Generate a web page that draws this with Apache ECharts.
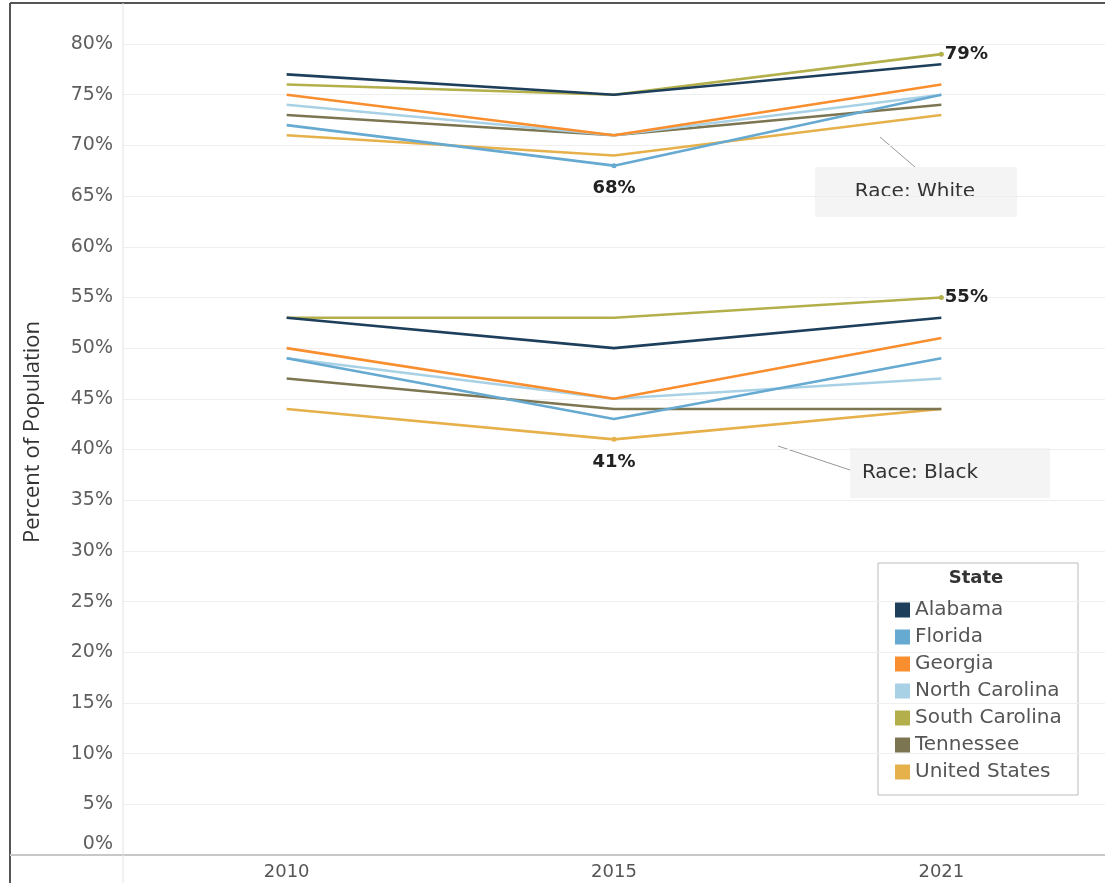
<!DOCTYPE html>
<html>
<head>
<meta charset="utf-8">
<script src="https://cdn.jsdelivr.net/npm/echarts@6/dist/echarts.min.js"></script>
<style>
html,body{margin:0;padding:0;background:#fff;}
#chart{width:1105px;height:883px;}
</style>
</head>
<body>
<div id="chart"></div>
<script>
// ---- data ----
const years = ['2010', '2015', '2021'];
const states = ['Alabama', 'Florida', 'Georgia', 'North Carolina', 'South Carolina', 'Tennessee', 'United States'];
const stateColors = ['#1d3f5c', '#66a9d1', '#f98e2f', '#a9d1e5', '#b3af4a', '#7b7552', '#e6b04b'];

const whiteAlabama = [77, 75, 78];
const whiteFlorida = [72, 68, 75];
const whiteGeorgia = [75, 71, 76];
const whiteNorthCarolina = [74, 71, 75];
const whiteSouthCarolina = [76, 75, 79];
const whiteTennessee = [73, 71, 74];
const whiteUnitedStates = [71, 69, 73];

const blackAlabama = [53, 50, 53];
const blackFlorida = [49, 43, 49];
const blackGeorgia = [50, 45, 51];
const blackNorthCarolina = [49, 45, 47];
const blackSouthCarolina = [53, 53, 55];
const blackTennessee = [47, 44, 44];
const blackUnitedStates = [44, 41, 44];

const whiteValues = [whiteAlabama, whiteFlorida, whiteGeorgia, whiteNorthCarolina, whiteSouthCarolina, whiteTennessee, whiteUnitedStates];
const blackValues = [blackAlabama, blackFlorida, blackGeorgia, blackNorthCarolina, blackSouthCarolina, blackTennessee, blackUnitedStates];

// highlighted points: [race, state, year index, label side]
const highlights = [
  ['White', 'South Carolina', 2, 'right'],
  ['White', 'Florida', 1, 'bottom'],
  ['Black', 'South Carolina', 2, 'right'],
  ['Black', 'United States', 1, 'bottom']
];

// ---- build ----
function buildData(race, stateName, values) {
  return values.map((v, i) => {
    const h = highlights.find(x => x[0] === race && x[1] === stateName && x[2] === i);
    if (!h) return v;
    return {
      value: v,
      symbol: 'circle',
      symbolSize: 5,
      label: {
        show: true,
        position: h[3],
        distance: h[3] === 'bottom' ? 11 : 1,
        formatter: '{c}%',
        fontFamily: 'DejaVu Sans',
        fontSize: 18,
        color: '#222',
        fontWeight: 'bold'
      }
    };
  });
}

const series = [];
states.forEach((s, i) => {
  [['White', whiteValues[i]], ['Black', blackValues[i]]].forEach(([race, vals]) => {
    series.push({
      name: s,
      type: 'line',
      data: buildData(race, s, vals),
      symbol: 'none',
      color: stateColors[i],
      lineStyle: { width: 2.6, color: stateColors[i] },
      itemStyle: { color: stateColors[i] },
      z: 10 - i,
      emphasis: { disabled: true },
      animation: false
    });
  });
});

const chart = echarts.init(document.getElementById('chart'), null, { renderer: 'canvas' });
chart.setOption({
  animation: false,
  backgroundColor: '#fff',
  grid: { left: 123, right: -11, top: 44, bottom: 28, containLabel: false },
  xAxis: {
    type: 'category',
    data: years,
    boundaryGap: true,
    axisLine: { show: true, lineStyle: { color: '#c8c8c8', width: 2 } },
    axisTick: { show: false },
    axisLabel: { fontFamily: 'DejaVu Sans', fontSize: 18, color: '#555', margin: 8 },
    splitLine: { show: false }
  },
  yAxis: {
    type: 'value',
    min: 0,
    max: 80,
    interval: 5,
    axisLine: { show: false },
    axisTick: { show: false },
    axisLabel: {
      fontFamily: 'DejaVu Sans',
      fontSize: 19,
      color: '#5e5e5e',
      margin: 10,
      formatter: v => v === 0 ? '{z|0%}' : v + '%',
      rich: { z: { fontFamily: 'DejaVu Sans', fontSize: 19, color: '#5e5e5e', padding: [0, 0, 22, 0] } }
    },
    splitLine: { show: true, lineStyle: { color: '#efefef', width: 1 } }
  },
  legend: {
    data: states,
    orient: 'vertical',
    left: 890,
    top: 595,
    icon: 'rect',
    itemWidth: 15,
    itemHeight: 15,
    itemGap: 7,
    textStyle: { fontFamily: 'DejaVu Sans', fontSize: 20, lineHeight: 20, color: '#555' },
    selectedMode: false
  },
  graphic: [
    // frame
    { type: 'line', shape: { x1: 10, y1: 3, x2: 1105, y2: 3 }, style: { stroke: '#555', lineWidth: 2 }, z: 100 },
    { type: 'line', shape: { x1: 10, y1: 3, x2: 10, y2: 883 }, style: { stroke: '#555', lineWidth: 2 }, z: 100 },
    { type: 'line', shape: { x1: 10, y1: 855, x2: 123, y2: 855 }, style: { stroke: '#c8c8c8', lineWidth: 2 }, z: 100 },
    { type: 'line', shape: { x1: 123, y1: 3, x2: 123, y2: 883 }, style: { stroke: '#e2e2e2', lineWidth: 1 }, z: 100 },
    // axis title
    { type: 'text', x: 33, y: 432, rotation: Math.PI / 2,
      style: { text: 'Percent of Population', fontFamily: 'Open Sans', fontSize: 22, fill: '#333', align: 'center', verticalAlign: 'middle' } },
    // annotation White
    { type: 'line', shape: { x1: 880, y1: 137, x2: 915, y2: 167 }, style: { stroke: '#999', lineWidth: 1 } },
    { type: 'rect', shape: { x: 815, y: 167, width: 202, height: 50 }, style: { fill: '#f4f4f4' } },
    { type: 'text', x: 915, y: 192, style: { text: 'Race: White', fontFamily: 'DejaVu Sans', fontSize: 20, fill: '#333', align: 'center', verticalAlign: 'middle' } },
    // annotation Black
    { type: 'line', shape: { x1: 778, y1: 446, x2: 850, y2: 470 }, style: { stroke: '#999', lineWidth: 1 } },
    { type: 'rect', shape: { x: 850, y: 448, width: 200, height: 50 }, style: { fill: '#f4f4f4' } },
    { type: 'text', x: 920, y: 473, style: { text: 'Race: Black', fontFamily: 'DejaVu Sans', fontSize: 20, fill: '#333', align: 'center', verticalAlign: 'middle' } },
    // legend box + title
    { type: 'rect', shape: { x: 878, y: 563, width: 200, height: 232 }, style: { fill: '#fff', stroke: '#bbb', lineWidth: 1 }, z: 0 },
    { type: 'text', x: 976, y: 578, style: { text: 'State', fontFamily: 'DejaVu Sans', fontSize: 18, fontWeight: 'bold', fill: '#333', align: 'center', verticalAlign: 'middle' } }
  ],
  series: series
});
</script>
</body>
</html>
